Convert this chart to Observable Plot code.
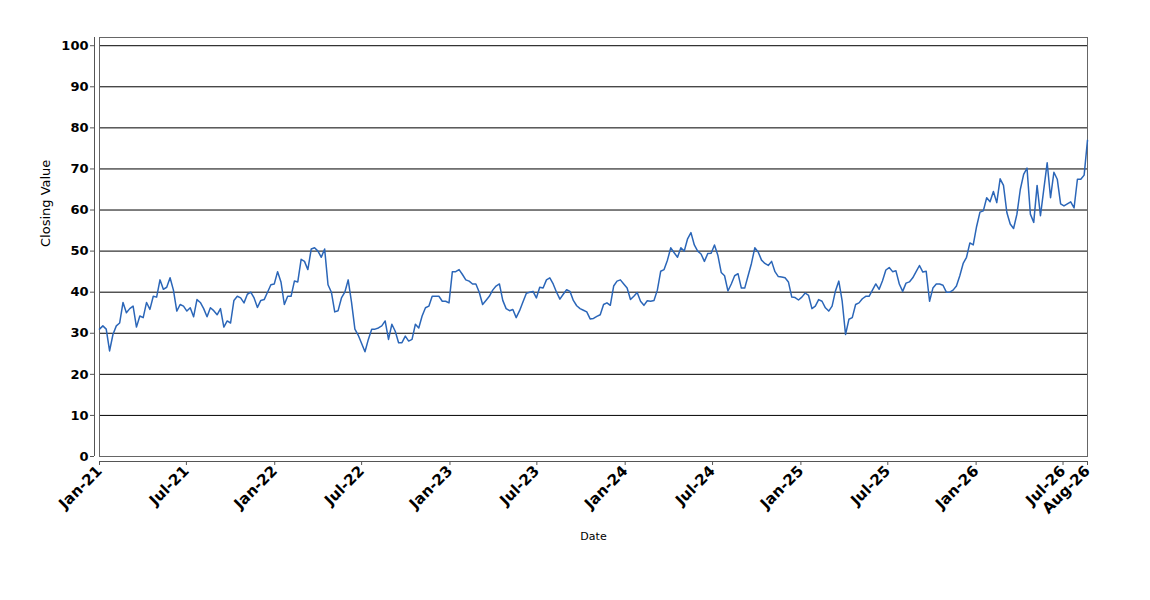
<!DOCTYPE html>
<html>
<head>
<meta charset="utf-8">
<script src="https://cdn.jsdelivr.net/npm/d3@7"></script>
<script src="https://cdn.jsdelivr.net/npm/@observablehq/plot@0.6"></script>
<style>
  html, body { margin: 0; padding: 0; background: #fff; }
  #chart { width: 1150px; height: 600px; }
</style>
</head>
<body>
<div id="chart"></div>
<script>
// Weekly closing values, starting 2021-01-01
const startDate = "2021-01-01";
const endDate = "2026-08-21";
const stepDays = 7;
const closingValues = [
  31, 31.8, 31, 25.7, 29.7, 31.8, 32.5, 37.5, 35, 36,
  36.6, 31.5, 34.2, 33.8, 37.5, 35.8, 39, 38.8, 43, 40.7,
  41.2, 43.5, 40.5, 35.4, 37, 36.6, 35.4, 36.2, 34, 38.2,
  37.5, 36, 34, 36.2, 35.5, 34.5, 36, 31.5, 33, 32.5,
  38, 39, 38.6, 37.4, 39.5, 40, 38.6, 36.3, 38, 38.2,
  40, 41.8, 42, 45, 42.5, 37, 39, 39, 42.7, 42.5,
  48, 47.5, 45.5, 50.5, 50.8, 50, 48.5, 50.5, 41.8, 40,
  35.2, 35.5, 38.6, 40, 43, 37.5, 31, 29.5, 27.5, 25.5,
  28.5, 31, 31, 31.3, 31.8, 33, 28.5, 32.2, 30.5, 27.7,
  27.7, 29.3, 28.1, 28.5, 32.2, 31.3, 34.2, 36.2, 36.6, 39,
  39, 39, 37.8, 37.8, 37.4, 45, 45, 45.5, 44.3, 43,
  42.7, 42, 42, 40, 37, 38, 39, 40.5, 41.5, 42,
  38, 36, 35.5, 35.8, 33.8, 35.5, 37.6, 39.7, 40, 40.2,
  38.6, 41.2, 41, 43, 43.5, 42, 40, 38.3, 39.5, 40.6,
  40.2, 38, 36.7, 36, 35.6, 35.2, 33.5, 33.6, 34.1, 34.5,
  37, 37.4, 36.8, 41.5, 42.7, 43, 42, 41, 38.2, 39,
  39.9, 37.8, 36.8, 37.9, 37.8, 38, 40.5, 45.1, 45.5, 47.8,
  50.8, 49.6, 48.5, 50.8, 50, 53, 54.5, 51.5, 50, 49.3,
  47.5, 49.4, 49.5, 51.5, 49, 44.8, 44, 40.3, 42, 44,
  44.5, 41, 41, 44, 47, 50.8, 49.8, 47.8, 47, 46.5,
  47.5, 45, 43.8, 43.7, 43.5, 42.5, 38.8, 38.7, 38.1, 38.8,
  39.8, 39.2, 36, 36.6, 38.2, 37.8, 36.2, 35.4, 36.6, 40.3,
  42.7, 37.8, 29.7, 33.4, 33.8, 37, 37.4, 38.4, 39, 39,
  40.5, 42, 40.7, 42.8, 45.4, 46, 45, 45.2, 42, 40.2,
  42.2, 42.5, 43.5, 45, 46.5, 44.9, 45.1, 37.8, 41, 42,
  42, 41.7, 40, 40, 40.5, 41.5, 44, 47, 48.5, 52,
  51.5, 56, 59.5, 59.8, 63, 62, 64.5, 61.8, 67.6, 66,
  59.4, 56.6, 55.5, 59, 65, 68.7, 70.2, 59, 57, 66,
  58.6, 65.1, 71.5, 63, 69.2, 67.5, 61.5, 61, 61.5, 62,
  60.5, 67.5, 67.5, 68.5, 77
];
const xTickDates = [
  "2021-01-01", "2021-07-01", "2022-01-01", "2022-07-01", "2023-01-01", "2023-07-01",
  "2024-01-01", "2024-07-01", "2025-01-01", "2025-07-01", "2026-01-01", "2026-07-01", "2026-08-21"
];
const yTicks = [0, 10, 20, 30, 40, 50, 60, 70, 80, 90, 100];
const yTitle = "Closing Value";
const xTitle = "Date";

const start = new Date(startDate + "T00:00:00Z");
const end = new Date(endDate + "T00:00:00Z");
const data = closingValues.map((v, i) => ({date: d3.utcDay.offset(start, i * stepDays), value: v}));
const xTicks = xTickDates.map(s => new Date(s + "T00:00:00Z"));
const fmt = d3.utcFormat("%b-%y");

const chart = Plot.plot({
  width: 1150,
  height: 600,
  marginLeft: 99,
  marginRight: 63,
  marginTop: 37,
  marginBottom: 144,
  style: {fontFamily: "DejaVu Sans", fontSize: "12px", color: "#000", background: "#fff", overflow: "visible"},
  x: {type: "utc", domain: [start, end]},
  y: {domain: [0, 102]},
  marks: [
    Plot.gridY(yTicks, {stroke: "#000", strokeOpacity: 1, strokeWidth: 1}),
    Plot.frame({stroke: "#666"}),
    Plot.lineY(data, {x: "date", y: "value", stroke: "#2b66b8", strokeWidth: 1.5}),
    Plot.ruleX([start], {dx: -5, stroke: "#555"}),
    Plot.ruleY([0], {dy: 5, stroke: "#555"}),
    Plot.axisY(yTicks, {dx: -5, tickSize: 4, tickPadding: 2, stroke: "#555", fontWeight: "bold", fontSize: 13, label: null}),
    Plot.axisX(xTicks, {dy: 5, tickSize: 4, tickPadding: 3, tickRotate: -45, stroke: "#555", tickFormat: fmt, fontWeight: "bold", fontSize: 15, label: null}),
    Plot.text([yTitle], {frameAnchor: "left", dx: -54, rotate: -90, fontSize: 13}),
    Plot.text([xTitle], {frameAnchor: "bottom", dy: 83, fontSize: 11})
  ]
});
document.getElementById("chart").appendChild(chart);
</script>
</body>
</html>
